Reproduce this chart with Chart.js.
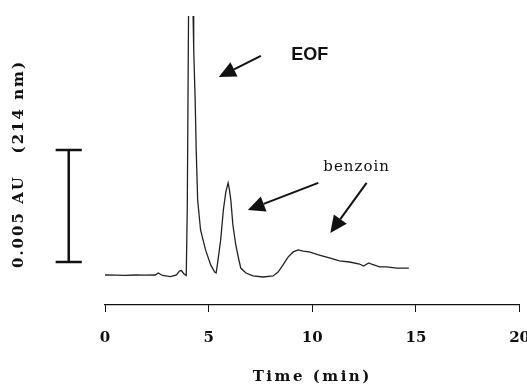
<!DOCTYPE html>
<html>
<head>
<meta charset="utf-8">
<script src="https://cdn.jsdelivr.net/npm/chart.js@4.4.0/dist/chart.umd.min.js"></script>
<style>
  html, body { margin: 0; padding: 0; background: #fff; overflow: hidden; }
  #wrap { width: 547px; height: 386px; }
</style>
</head>
<body>
<div id="wrap"><canvas id="myChart"></canvas></div>
<script>
// electropherogram (time in min, absorbance in mAU)
let times = [
  0.00, 0.49, 0.97, 1.46, 1.94, 2.43, 2.57, 2.77, 3.16, 3.45,
  3.59, 3.69, 3.79, 3.92, 3.97, 4.03, 4.13, 4.25, 4.28, 4.35,
  4.40, 4.47, 4.61, 4.85, 5.10, 5.29, 5.36, 5.42, 5.58, 5.71,
  5.83, 5.94, 5.99, 6.07, 6.17, 6.31, 6.46, 6.55, 6.80, 7.14,
  7.62, 8.11, 8.35, 8.59, 8.83, 9.08, 9.32, 9.56, 9.85, 10.34,
  10.83, 11.31, 11.80, 12.28, 12.48, 12.72, 12.86, 13.25, 13.59, 14.08,
  14.66,
];
let absorbance = [
  0.00, -0.01, -0.02, 0.00, -0.01, 0.00, 0.09, -0.02, -0.07, 0.00,
  0.18, 0.20, 0.07, -0.02, 3.04, 11.6, 14.8, 11.56, 10.04, 7.81,
  5.58, 3.35, 2.01, 1.12, 0.45, 0.13, 0.09, 0.45, 1.56, 2.90,
  3.71, 4.11, 3.88, 3.35, 2.23, 1.34, 0.67, 0.31, 0.09, -0.04,
  -0.09, -0.04, 0.13, 0.45, 0.80, 1.03, 1.12, 1.07, 1.03, 0.89,
  0.76, 0.63, 0.58, 0.49, 0.40, 0.54, 0.49, 0.36, 0.36, 0.31,
  0.31,
];

let timeTicks = [0, 5, 10, 15, 20];

// 0.005 AU scale bar (= 5 mAU)
let scaleBarTime = -1.75;
let scaleBarLow = 0.58;
let scaleBarHigh = 5.58;
let scaleBarCap = 0.63;

// arrows [time, mAU]
let arrowTails = [[7.52, 9.78], [10.29, 4.11], [12.62, 4.11]];
let arrowTips = [[5.49, 8.84], [6.89, 2.90], [10.87, 1.88]];

let eofLabel = { text: "EOF", t: 8.98, a: 9.82 };
let benzoinLabel = { text: "benzoin", t: 12.14, a: 4.82 };
let yLabel = "0.005 AU   (214 nm)";
let xLabel = "Time (min)";

function drawArrow(ctx, x0, y0, x1, y1) {
  let ang = Math.atan2(y1 - y0, x1 - x0);
  let len = 17, half = 8;
  let bx = x1 - len * Math.cos(ang);
  let by = y1 - len * Math.sin(ang);
  ctx.beginPath();
  ctx.moveTo(x0, y0);
  ctx.lineTo(bx, by);
  ctx.stroke();
  ctx.beginPath();
  ctx.moveTo(x1, y1);
  ctx.lineTo(bx + half * Math.sin(ang), by - half * Math.cos(ang));
  ctx.lineTo(bx - half * Math.sin(ang), by + half * Math.cos(ang));
  ctx.closePath();
  ctx.fill();
}

const annotate = {
  id: "annotate",
  afterDraw(chart) {
    let ctx = chart.ctx;
    let xs = chart.scales.x, ys = chart.scales.y;
    ctx.save();
    ctx.strokeStyle = "#111";
    ctx.fillStyle = "#111";

    // scale bar
    let bx = xs.getPixelForValue(scaleBarTime);
    let capL = xs.getPixelForValue(scaleBarTime - scaleBarCap);
    let capR = xs.getPixelForValue(scaleBarTime + scaleBarCap);
    let b0 = ys.getPixelForValue(scaleBarLow);
    let b1 = ys.getPixelForValue(scaleBarHigh);
    ctx.lineWidth = 2.5;
    ctx.beginPath();
    ctx.moveTo(bx, b0); ctx.lineTo(bx, b1);
    ctx.moveTo(capL, b0); ctx.lineTo(capR, b0);
    ctx.moveTo(capL, b1); ctx.lineTo(capR, b1);
    ctx.stroke();

    // arrows
    ctx.lineWidth = 2;
    for (let i = 0; i < arrowTails.length; i++) {
      drawArrow(ctx,
        xs.getPixelForValue(arrowTails[i][0]), ys.getPixelForValue(arrowTails[i][1]),
        xs.getPixelForValue(arrowTips[i][0]), ys.getPixelForValue(arrowTips[i][1]));
    }

    // labels
    ctx.textBaseline = "middle";
    ctx.font = "bold 18px 'Liberation Sans', Arial, sans-serif";
    ctx.textAlign = "left";
    ctx.fillText(eofLabel.text, xs.getPixelForValue(eofLabel.t), ys.getPixelForValue(eofLabel.a));

    ctx.font = "15px 'DejaVu Serif', serif";
    ctx.letterSpacing = "1px";
    ctx.textAlign = "center";
    ctx.fillText(benzoinLabel.text, xs.getPixelForValue(benzoinLabel.t), ys.getPixelForValue(benzoinLabel.a));

    // axis titles
    ctx.font = "bold 15px 'DejaVu Serif', serif";
    ctx.letterSpacing = "2.5px";
    ctx.fillText(xLabel, xs.getPixelForValue(10), 377);

    ctx.letterSpacing = "2px";
    ctx.translate(19, 164);
    ctx.rotate(-Math.PI / 2);
    ctx.fillText(yLabel, 0, 0);
    ctx.restore();
  },
};

let init = () => {
  let points = times.map((t, i) => ({ x: t, y: absorbance[i] }));
  const config = {
    type: "line",
    data: {
      datasets: [{
        data: points,
        borderColor: "#222",
        borderWidth: 1.3,
        pointRadius: 0,
        tension: 0,
        fill: false,
      }],
    },
    options: {
      responsive: true,
      maintainAspectRatio: false,
      animation: false,
      devicePixelRatio: 1,
      layout: { padding: { left: 105, top: 16, right: 0, bottom: 0 } },
      plugins: { legend: { display: false }, tooltip: { enabled: false } },
      scales: {
        x: {
          type: "linear",
          min: 0,
          max: 20,
          afterBuildTicks: (scale) => {
            scale.ticks = timeTicks.map((v) => ({ value: v }));
          },
          afterFit: (scale) => { scale.height = 81; },
          grid: { drawOnChartArea: false, drawTicks: true, tickLength: 7, color: "#111", lineWidth: 1 },
          border: { display: true, color: "#111", width: 1.2 },
          ticks: {
            color: "#111",
            padding: 17,
            maxRotation: 0,
            font: { family: "'DejaVu Serif', serif", size: 15, weight: "bold" },
          },
        },
        y: {
          display: false,
          min: -1.339,
          max: 11.56,
        },
      },
    },
    plugins: [annotate],
  };
  new Chart(document.getElementById("myChart"), config);
};
window.onload = init;
</script>
</body>
</html>
